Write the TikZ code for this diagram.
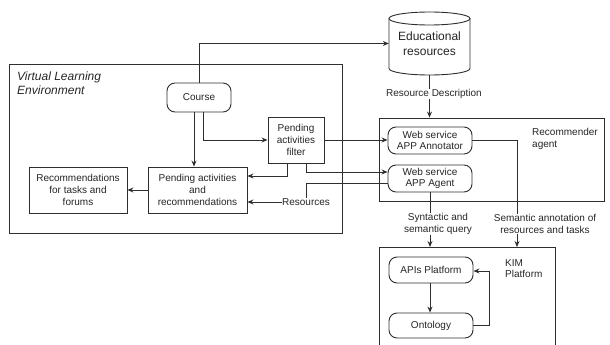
\documentclass[tikz,border=0pt]{standalone}
\usepackage{fontspec}
\setmainfont{Liberation Sans}
\usetikzlibrary{arrows.meta,calc}
\definecolor{lc}{gray}{0.18}
\begin{document}
\begin{tikzpicture}[x=1pt,y=-1pt,
  every node/.style={font=\fontsize{10}{11.6}\selectfont, align=center, inner sep=0pt, text=black!85},
  sq/.style={draw=lc, line width=0.9pt, fill=white},
  rnd/.style={sq, rounded corners=8pt},
  container/.style={draw=lc, line width=0.9pt},
  ln/.style={draw=lc, line width=0.9pt},
  arr/.style={ln, -{Stealth[length=6pt,width=5pt]}},
  big/.style={font=\fontsize{12}{14.5}\selectfont}]
\useasboundingbox (0,0) rectangle (610,345);

% containers
\node[container, minimum width=333, minimum height=169] (vle) at (175.5,148.5) {};
\node[container, minimum width=225, minimum height=83] (recag) at (491.5,159.5) {};
\coordinate (kimtl) at (379,247);
\coordinate (kimtr) at (555,247);
\draw[ln] (379,345) -- (kimtl) -- (kimtr) -- (555,345);

\node[big, font=\fontsize{12}{14}\selectfont\itshape, align=left, anchor=north west] (vlet) at (17,72) {Virtual Learning\\Environment};
\node[align=left, anchor=west] (recagt) at (532,139) {Recommender\\agent};
\node[align=left, anchor=west] (kimt) at (505,268.5) {KIM\\Platform};

% cylinder
\node[big, minimum width=81, minimum height=63] (cyl) at (429.5,43.5) {};
\draw[ln, fill=white] (389,18.5) -- (389,68.5) arc[start angle=180, end angle=360, x radius=40.5pt, y radius=6.5pt] -- (470,18.5);
\draw[ln, fill=white] (429.5,18.5) ellipse [x radius=40.5pt, y radius=6.5pt];
\node[big] (cylt) at (429.5,43.5) {Educational\\resources};

% boxes
\node[rnd, minimum width=64, minimum height=29] (course) at (199,97.5) {Course};
\node[sq, minimum width=56, minimum height=46] (filter) at (296,140) {Pending\\activities\\filter};
\node[sq, minimum width=99, minimum height=46] (par) at (197.5,190) {Pending activities\\and\\recommendations};
\node[sq, minimum width=98, minimum height=46] (rec) at (78,190) {Recommendations\\for tasks and\\forums};
\node[rnd, minimum width=84, minimum height=27] (annot) at (430,140.5) {Web service\\APP Annotator};
\node[rnd, minimum width=84, minimum height=27] (agent) at (430,178.5) {Web service\\APP Agent};
\node[rnd, minimum width=84, minimum height=26] (apis) at (431,270) {APIs Platform};
\node[rnd, minimum width=84, minimum height=25] (onto) at (431,325.5) {Ontology};

% labels
\node (resdesc) at (434,94) {Resource Description};
\node[fill=white] (res) at (306,202) {Resources};
\node (synt) at (438,224) {Syntactic and\\semantic query};
\node (sem) at (545,224) {Semantic annotation of\\resources and tasks};

% connectors
\draw[arr] (course.north) |- (cyl.west);
\draw[arr] ([xshift=-5pt]course.south) -- ([xshift=-5pt]course.south |- par.north);
\draw[arr] ([xshift=4pt]course.south) |- (filter.west);
\draw[arr] ([xshift=-9pt]filter.south) |- (par.east |- 0,176);
\draw[arr] ([xshift=10pt]filter.south) |- (agent.west |- 0,172);
\draw[arr] (filter.east) -- (filter.east -| annot.west);
\draw[arr] (par.west) -- (rec.east);
\draw[ln] (agent.west |- 0,183) -| (res.north);
\draw[arr] (res.west) -- (par.east |- res.west);
\draw[ln] (cyl.south) -- (cyl.south |- resdesc.north);
\draw[arr] (cyl.south |- resdesc.south) -- (cyl.south |- recag.north);
\draw[ln] (agent.south) -- (agent.south |- synt.north);
\draw[arr] (agent.south |- synt.south) -- (agent.south |- kimtl);
\draw[ln] (annot.east) -| (517,0 |- sem.north);
\draw[arr] (517,0 |- sem.south) -- (517,0 |- kimtl);
\draw[arr] ([xshift=-1pt]apis.south) -- ([xshift=-1pt]onto.north);
\draw[arr] (onto.east) -| (489,271) -- (apis.east |- 0,271);
\end{tikzpicture}
\end{document}
